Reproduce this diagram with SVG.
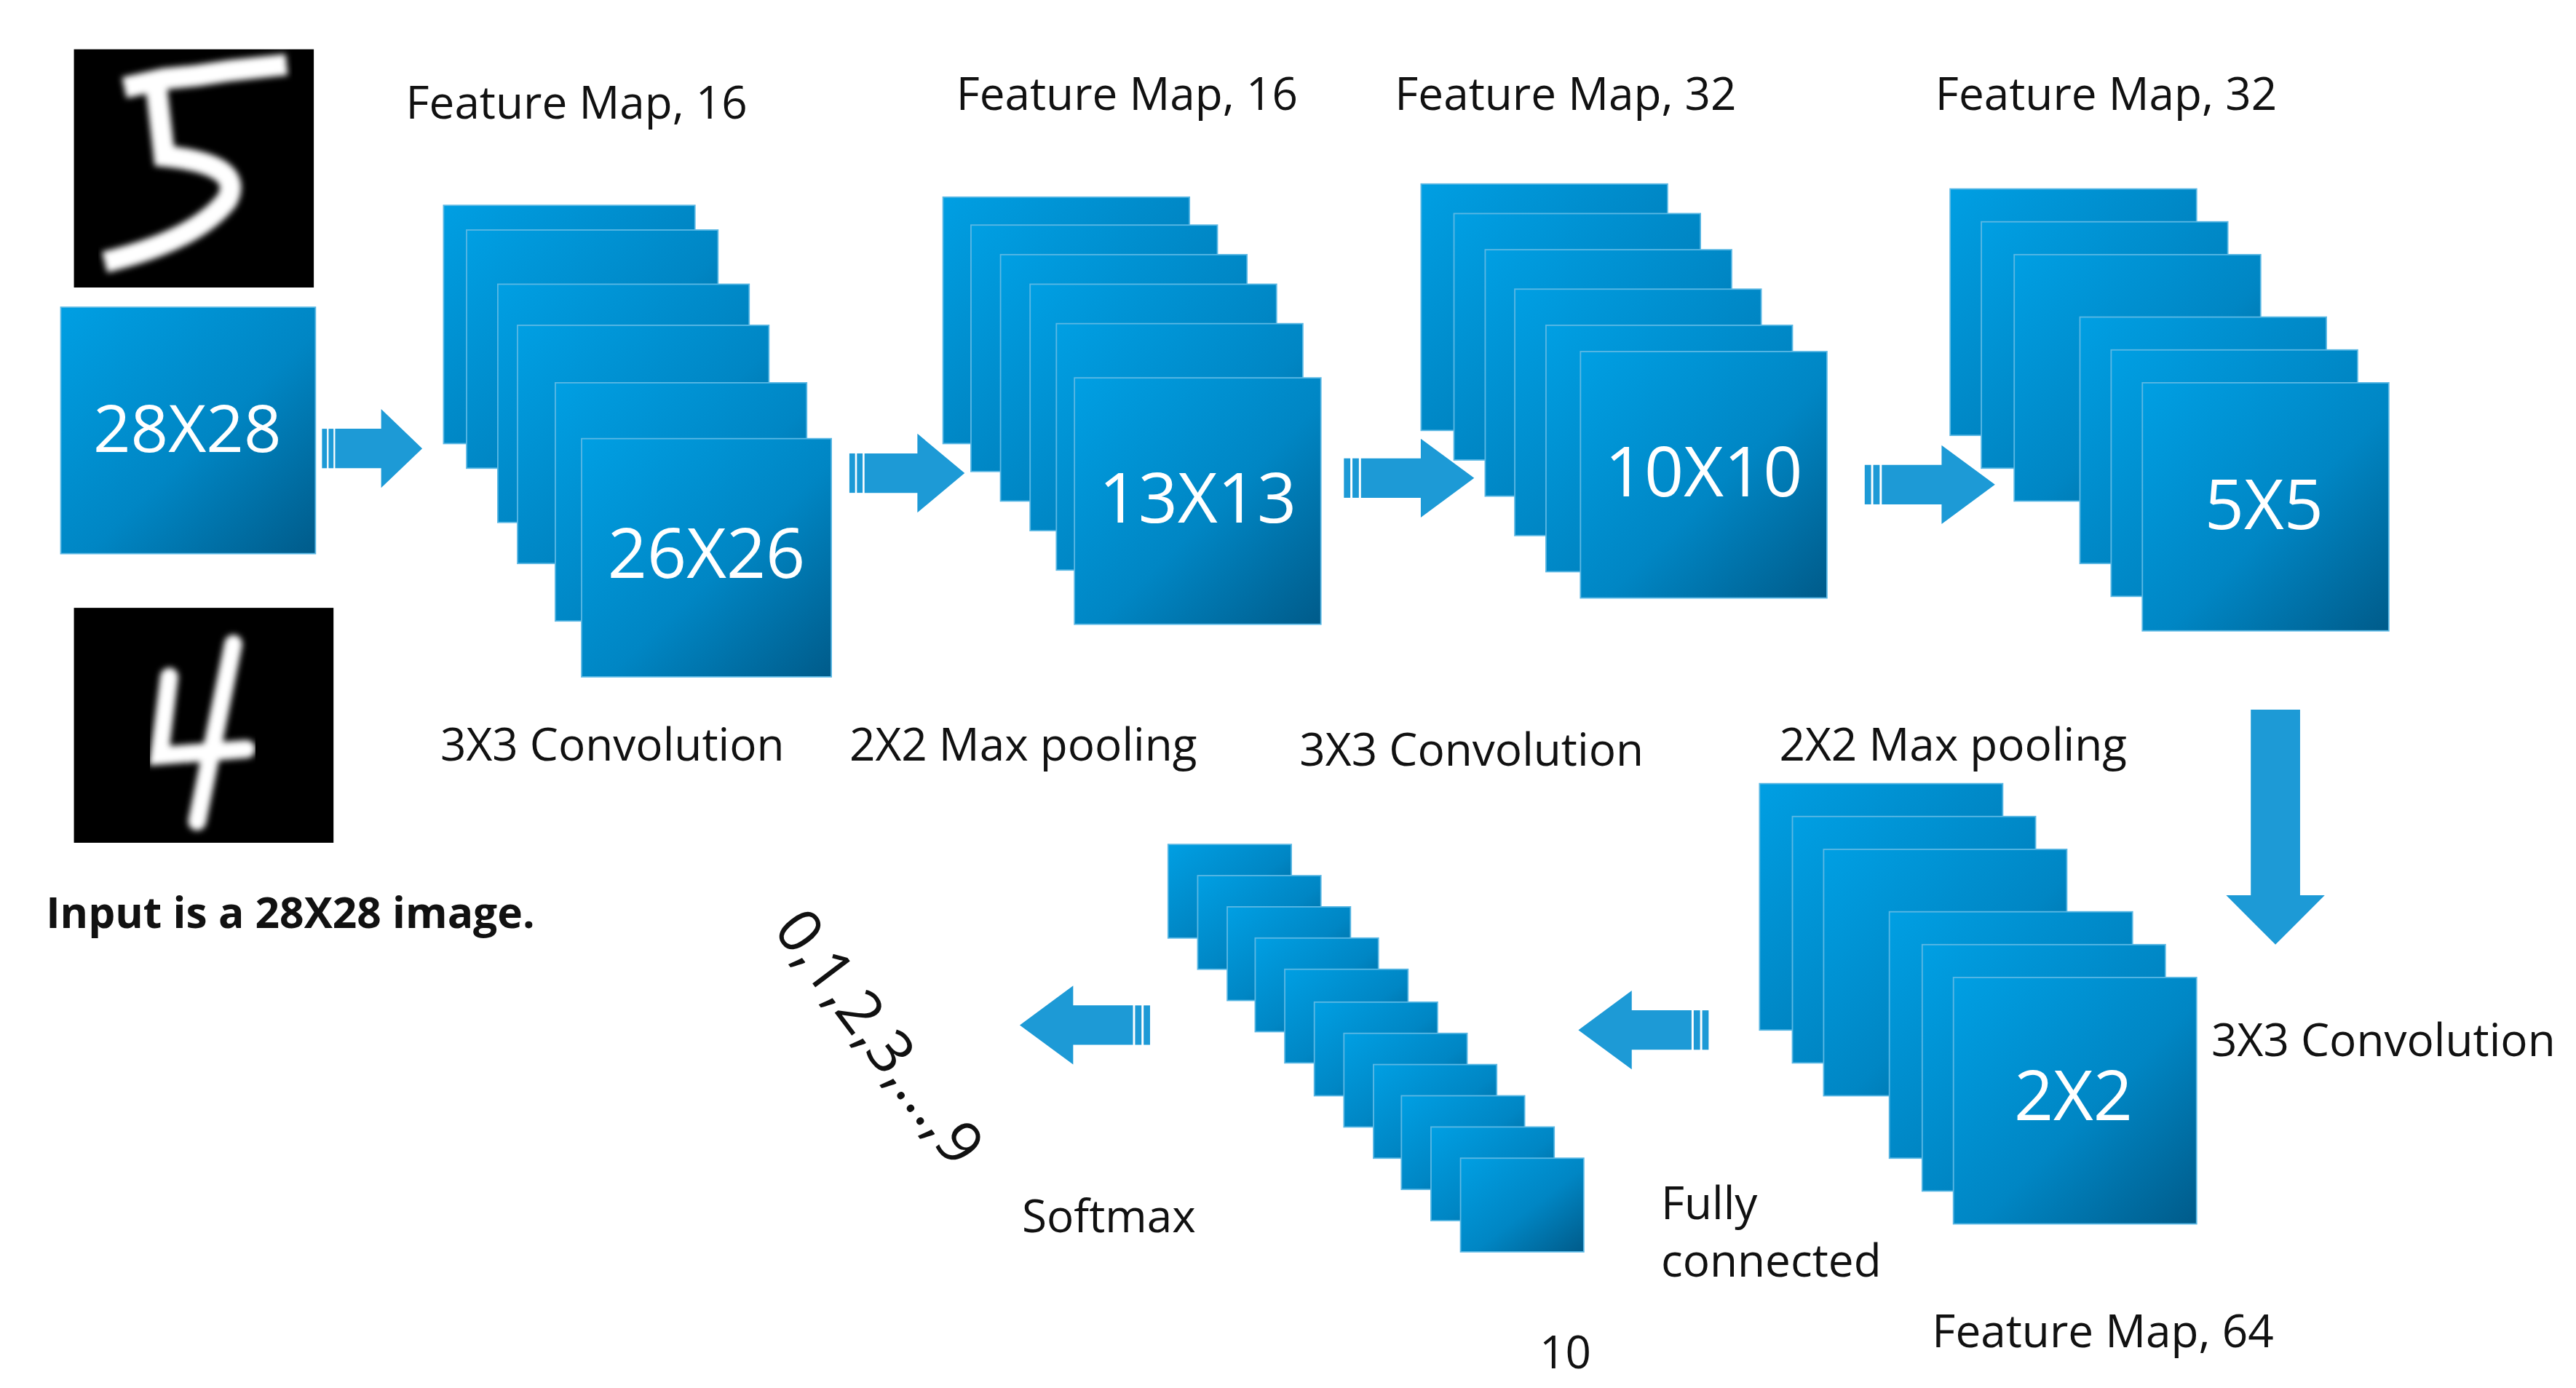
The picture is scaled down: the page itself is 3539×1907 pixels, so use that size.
<svg xmlns="http://www.w3.org/2000/svg" width="3539" height="1907" viewBox="0 0 3539 1907">
<defs>
<linearGradient id="g" x1="0" y1="0" x2="1" y2="1"><stop offset="0" stop-color="#009fe3"/><stop offset="0.55" stop-color="#0086c4"/><stop offset="1" stop-color="#005b8a"/></linearGradient>
<filter id="bl"><feGaussianBlur stdDeviation="2"/></filter>
<g id="ar"><rect x="0" y="-12" width="3" height="24"/><rect x="4" y="-12" width="3" height="24"/><path d="M8,-12 H36 V-24 L61,0 L36,24 V12 H8 Z"/></g>
</defs>
<style>
.b{fill:url(#g);stroke:#5bb8e4;stroke-width:0.8}
.t{font-family:"Open Sans","DejaVu Sans",sans-serif;font-size:27.5px;fill:#111}
.w{font-family:"Open Sans","DejaVu Sans",sans-serif;fill:#fff;text-anchor:middle}
.a{fill:#1d9ad6}
</style>
<rect width="3539" height="1907" fill="#fff"/>
<g transform="scale(2.2571)">
<g id="input">
<rect x="45" y="30" width="146" height="145" fill="#000"/>
<path d="M82,52 L100,48 L120,46 L140,43 L168,40 M95,52 L100,95 Q150,100 138,122 Q120,145 70,158" fill="none" stroke="#fff" stroke-width="13" stroke-linecap="square" filter="url(#bl)"/>
<rect class="b" x="37" y="187" width="155" height="150"/>
<text class="w" x="114" y="275" font-size="40">28X28</text>
<rect x="45" y="370" width="158" height="143" fill="#000"/>
<path d="M142,392 L120,500 M103,412 L97,460 L150,456" fill="none" stroke="#fff" stroke-width="11" stroke-linecap="round" filter="url(#bl)"/>
<text class="t" x="28" y="565" font-weight="bold" style="font-size:26px">Input is a 28X28 image.</text>
</g>
<g id="conv1">
<rect class="b" x="270" y="125" width="153" height="145"/><rect class="b" x="284" y="140" width="153" height="145"/><rect class="b" x="303" y="173" width="153" height="145"/><rect class="b" x="315" y="198" width="153" height="145"/><rect class="b" x="338" y="233" width="153" height="145"/><rect class="b" x="354" y="267" width="152" height="145"/>
<text class="w" x="430" y="352" font-size="42">26X26</text>
</g>
<g id="pool1">
<rect class="b" x="574" y="120" width="150" height="150"/><rect class="b" x="591" y="137" width="150" height="150"/><rect class="b" x="609" y="155" width="150" height="150"/><rect class="b" x="627" y="173" width="150" height="150"/><rect class="b" x="643" y="197" width="150" height="150"/><rect class="b" x="654" y="230" width="150" height="150"/>
<text class="w" x="729" y="318" font-size="42">13X13</text>
</g>
<g id="conv2">
<rect class="b" x="865" y="112" width="150" height="150"/><rect class="b" x="885" y="130" width="150" height="150"/><rect class="b" x="904" y="152" width="150" height="150"/><rect class="b" x="922" y="176" width="150" height="150"/><rect class="b" x="941" y="198" width="150" height="150"/><rect class="b" x="962" y="214" width="150" height="150"/>
<text class="w" x="1037" y="302" font-size="42">10X10</text>
</g>
<g id="pool2">
<rect class="b" x="1187" y="115" width="150" height="150"/><rect class="b" x="1206" y="135" width="150" height="150"/><rect class="b" x="1226" y="155" width="150" height="150"/><rect class="b" x="1266" y="193" width="150" height="150"/><rect class="b" x="1285" y="213" width="150" height="150"/><rect class="b" x="1304" y="233" width="150" height="151"/>
<text class="w" x="1378" y="322" font-size="42">5X5</text>
</g>
<g id="conv3">
<rect class="b" x="1071" y="477" width="148" height="150"/><rect class="b" x="1091" y="497" width="148" height="150"/><rect class="b" x="1110" y="517" width="148" height="150"/><rect class="b" x="1150" y="555" width="148" height="150"/><rect class="b" x="1170" y="575" width="148" height="150"/><rect class="b" x="1189" y="595" width="148" height="150"/>
<text class="w" x="1262" y="682" font-size="42">2X2</text>
</g>
<g id="fc">
<rect class="b" x="711" y="514" width="75" height="57"/><rect class="b" x="729" y="533" width="75" height="57"/><rect class="b" x="747" y="552" width="75" height="57"/><rect class="b" x="764" y="571" width="75" height="57"/><rect class="b" x="782" y="590" width="75" height="57"/><rect class="b" x="800" y="610" width="75" height="57"/><rect class="b" x="818" y="629" width="75" height="57"/><rect class="b" x="836" y="648" width="75" height="57"/><rect class="b" x="853" y="667" width="75" height="57"/><rect class="b" x="871" y="686" width="75" height="57"/><rect class="b" x="889" y="705" width="75" height="57"/>
</g>
<g id="connectors" class="a">
<use href="#ar" transform="translate(196,273)"/>
<use href="#ar" transform="translate(517,288) scale(1.15,1)"/>
<use href="#ar" transform="translate(818,291) scale(1.3,1)"/>
<use href="#ar" transform="translate(1135,295) scale(1.3,1)"/>
<path d="M1370,432 H1400 V545 H1415 L1385,575 L1355,545 H1370 Z"/>
<use href="#ar" transform="translate(1040,627) rotate(180) scale(1.3,1)"/>
<use href="#ar" transform="translate(700,624) rotate(180) scale(1.3,1)"/>
</g>
<g id="labels">
<text class="t" x="247" y="72">Feature Map, 16</text>
<text class="t" x="582" y="67">Feature Map, 16</text>
<text class="t" x="849" y="67">Feature Map, 32</text>
<text class="t" x="1178" y="67">Feature Map, 32</text>
<text class="t" x="268" y="463">3X3 Convolution</text>
<text class="t" x="517" y="463">2X2 Max pooling</text>
<text class="t" x="791" y="466">3X3 Convolution</text>
<text class="t" x="1083" y="463">2X2 Max pooling</text>
<text class="t" x="1346" y="643">3X3 Convolution</text>
<text class="t" x="1011" y="742">Fully</text>
<text class="t" x="1011" y="777">connected</text>
<text class="t" x="1176" y="820">Feature Map, 64</text>
<text class="t" x="937" y="833">10</text>
<text class="t" x="622" y="750">Softmax</text>
<text class="t" style="font-size:37px" transform="translate(470,566) rotate(53)">0,1,2,3,...,9</text>
</g>
</g>
</svg>
